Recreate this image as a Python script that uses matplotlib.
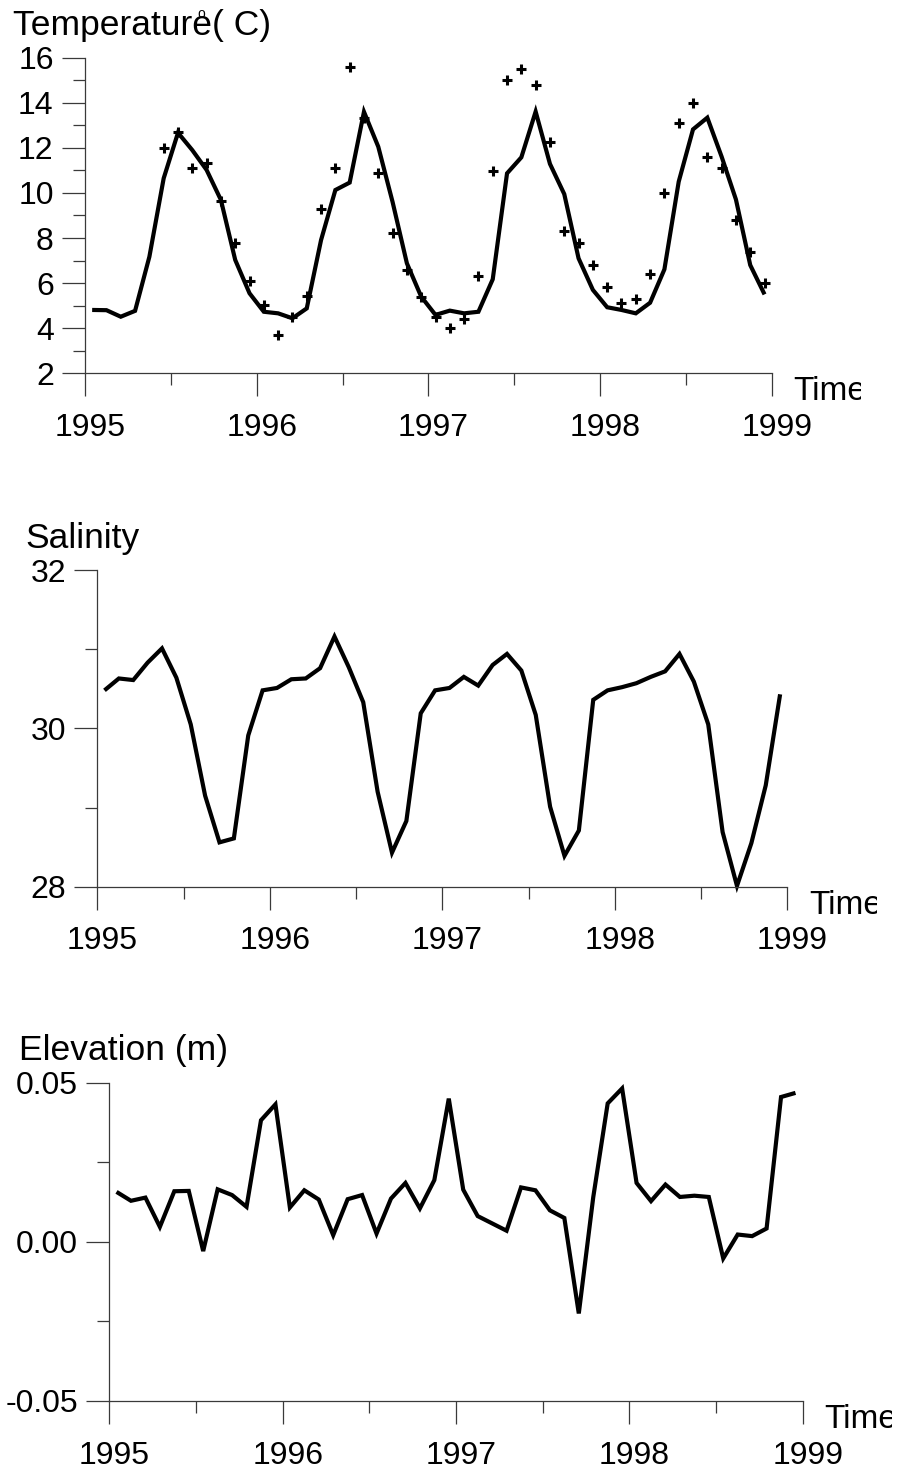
import numpy as np
import matplotlib
matplotlib.use('Agg')
import matplotlib.pyplot as plt
from matplotlib.transforms import ScaledTranslation, Bbox

plt.rcParams['font.family'] = ['Liberation Sans', 'DejaVu Sans']
plt.rcParams['axes.unicode_minus'] = False

# monthly series 1995-1998, one value per month (mid-month)
years = [1995, 1996, 1997, 1998]
months = np.arange(12)

temp_model = [4.81, 4.80, 4.51, 4.77, 7.17, 10.65, 12.67, 11.90, 11.02, 9.69, 7.03, 5.55,
              4.73, 4.66, 4.44, 4.88, 7.91, 10.13, 10.46, 13.60, 12.05, 9.60, 6.88, 5.40,
              4.59, 4.78, 4.66, 4.73, 6.17, 10.87, 11.58, 13.61, 11.29, 9.95, 7.10, 5.70,
              4.93, 4.81, 4.66, 5.13, 6.61, 10.50, 12.82, 13.34, 11.61, 9.71, 6.80, 5.50]

# observed temperatures start in June 1995 (month index 5)
obs_start = 5
temp_obs = [12.00, 12.72, 11.10, 11.32, 9.64, 7.80, 6.10,
            5.03, 3.70, 4.50, 5.44, 9.29, 11.10, 15.57, 13.31, 10.90, 8.21, 6.58, 5.40,
            4.51, 4.00, 4.40, 6.32, 10.99, 15.01, 15.49, 14.79, 12.28, 8.31, 7.80, 6.79,
            5.82, 5.10, 5.30, 6.41, 10.01, 13.09, 13.98, 11.61, 11.09, 8.80, 7.40, 6.00]

salinity = [30.48, 30.63, 30.61, 30.83, 31.01, 30.64, 30.05, 29.15, 28.56, 28.61, 29.91, 30.48,
            30.51, 30.62, 30.63, 30.76, 31.16, 30.77, 30.33, 29.20, 28.43, 28.83, 30.19, 30.48,
            30.51, 30.65, 30.54, 30.80, 30.94, 30.73, 30.17, 29.01, 28.39, 28.71, 30.36, 30.48,
            30.52, 30.57, 30.65, 30.72, 30.94, 30.59, 30.05, 28.69, 28.01, 28.55, 29.28, 30.43]

elevation = [0.0157, 0.0129, 0.0139, 0.0047, 0.0159, 0.0160, -0.0029, 0.0165, 0.0147, 0.0110, 0.0382, 0.0432,
             0.0108, 0.0162, 0.0133, 0.0021, 0.0134, 0.0147, 0.0026, 0.0136, 0.0185, 0.0105, 0.0194, 0.0450,
             0.0164, 0.0081, 0.0058, 0.0035, 0.0171, 0.0162, 0.0099, 0.0075, -0.0225, 0.0140, 0.0435, 0.0482,
             0.0185, 0.0128, 0.0180, 0.0141, 0.0145, 0.0141, -0.0052, 0.0023, 0.0018, 0.0042, 0.0455, 0.0468]

t = np.array([y + (m + 0.5) / 12.0 for y in years for m in months])

W, H = 898, 1475
fig = plt.figure(figsize=(W / 100, H / 100), dpi=100)
axcol = '#3a3a3a'
fs_tick = 23
fs_lab = 25.5


def make_axes(left, top, right, bottom):
    ax = fig.add_axes([left / W, 1 - bottom / H, (right - left) / W, (bottom - top) / H])
    for s in ['top', 'right']:
        ax.spines[s].set_visible(False)
    for s in ['left', 'bottom']:
        ax.spines[s].set_color(axcol)
        ax.spines[s].set_linewidth(0.9)
    ax.tick_params(which='major', direction='out', length=16.5, width=0.9, color=axcol,
                   labelsize=fs_tick)
    ax.tick_params(which='minor', direction='out', length=8.3, width=0.9, color=axcol)
    ax.tick_params(axis='x', pad=12)
    ax.tick_params(axis='y', pad=6)
    ax.set_xlim(1995, 1999)
    ax.set_xticks([1995, 1996, 1997, 1998, 1999])
    ax.set_xticks([1995.5, 1996.5, 1997.5, 1998.5], minor=True)
    shift = ScaledTranslation(5 / 100, 0, fig.dpi_scale_trans)
    for lab in ax.get_xticklabels():
        lab.set_transform(lab.get_transform() + shift)
    # axis name at the end of the time axis, cut off past the frame
    tl = fig.text((right + 21.5) / W, 1 - (bottom + 27) / H, 'Time', fontsize=24,
                  ha='left', va='baseline')
    tl.set_clip_box(Bbox.from_extents(0, 0, right + 89.5, H))
    tl.set_clip_on(True)
    return ax


def line_style():
    return dict(color='black', lw=3.0, solid_joinstyle='miter', solid_capstyle='butt',
                clip_on=False)


# temperature
ax1 = make_axes(85, 57.7, 771.7, 373.3)
ax1.plot(t, temp_model, **line_style())
ax1.plot(t[obs_start:], temp_obs, ls='none', marker='+', ms=7.5, mew=2.2, color='black',
         clip_on=False)
ax1.set_ylim(2, 16)
ax1.set_yticks(np.arange(2, 17, 2))
ax1.set_yticks(np.arange(3, 16, 2), minor=True)
fig.text(13 / W, 1 - 35 / H, 'Temperature( C)', fontsize=fs_lab, ha='left', va='baseline')
fig.text(201.5 / W, 1 - 18.5 / H, 'o', fontsize=10, ha='center', va='baseline')

# salinity
ax2 = make_axes(97.3, 570, 787.3, 886.7)
ax2.plot(t, salinity, **line_style())
ax2.set_ylim(28, 32)
ax2.set_yticks([28, 30, 32])
ax2.set_yticks([29, 31], minor=True)
fig.text(25 / W, 1 - 548 / H, 'Salinity', fontsize=fs_lab, ha='left', va='baseline')

# surface elevation
ax3 = make_axes(109.3, 1082.7, 802.7, 1401)
ax3.plot(t, elevation, **line_style())
ax3.set_ylim(-0.05, 0.05)
ax3.set_yticks([-0.05, 0.0, 0.05])
ax3.set_yticks([-0.025, 0.025], minor=True)
ax3.yaxis.set_major_formatter(matplotlib.ticker.FormatStrFormatter('%.2f'))
fig.text(19 / W, 1 - 1060 / H, 'Elevation (m)', fontsize=fs_lab, ha='left', va='baseline')

fig.savefig('out.png', dpi=100)
